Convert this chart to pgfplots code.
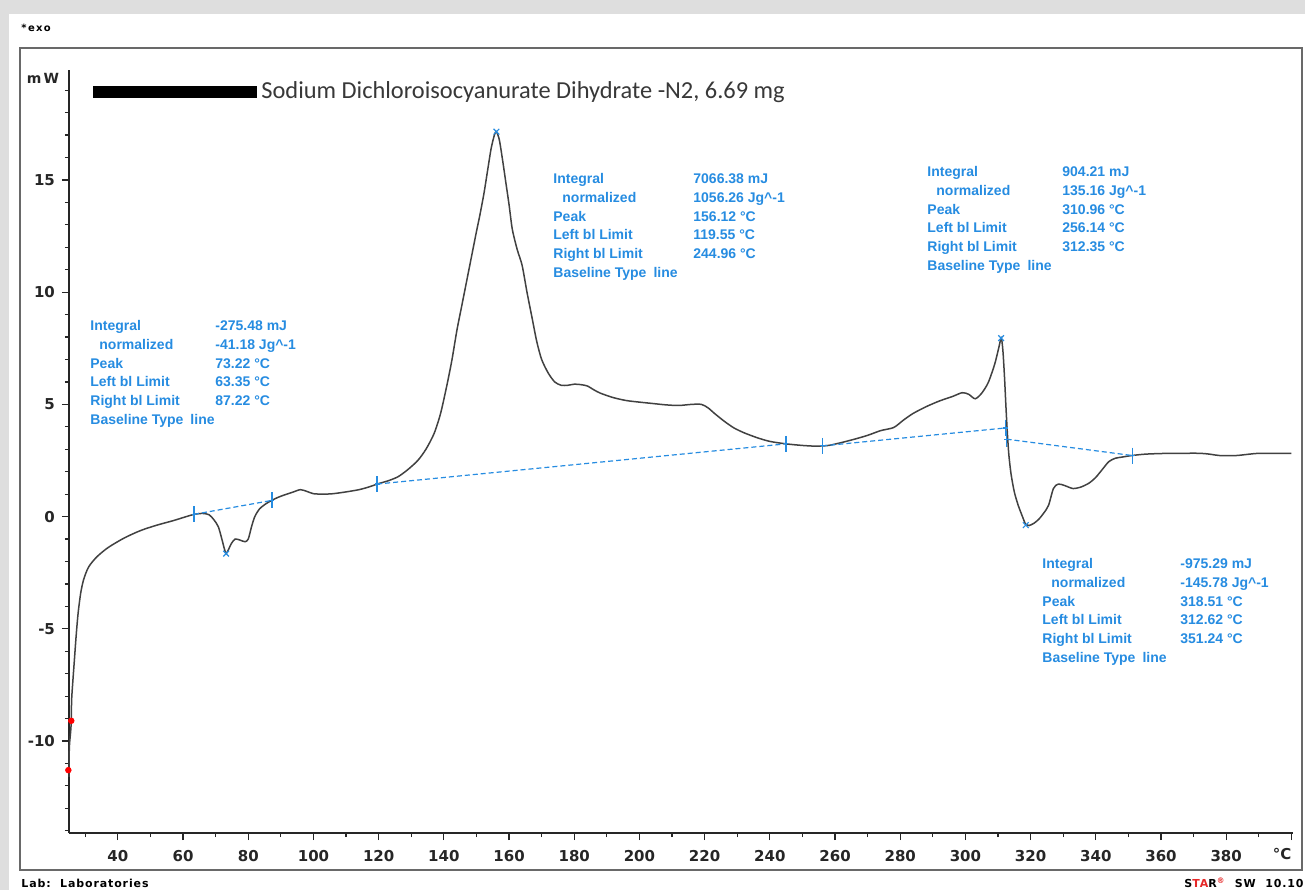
\documentclass[border=0pt]{standalone}
\usepackage{fontspec}
\setmainfont{Liberation Sans}
\newfontfamily\titlefont{Carlito}
\newfontfamily\tickfont{DejaVu Sans}
\usepackage{pgfplots}
\usepackage{pgfplotstable}
\pgfplotsset{compat=1.18}

\definecolor{curvegray}{RGB}{65,65,65}
\definecolor{annot}{RGB}{38,140,225}
\definecolor{framegray}{RGB}{105,105,105}
\definecolor{shadowgray}{RGB}{222,222,222}
\definecolor{starred}{RGB}{230,40,40}

% DSC curve, temperature (C) vs heat flow (mW)
\pgfplotstableread{
T q
25.0 -11.6
25.1 -10.3
25.5 -9.6
25.7 -9.1
25.8 -8.2
26.1 -7.5
26.6 -6.5
27.2 -5.3
27.8 -4.3
28.6 -3.4
29.5 -2.8
31.0 -2.25
33.5 -1.8
37.0 -1.38
42.0 -0.95
47.0 -0.62
52.0 -0.38
57.0 -0.18
61.0 0.0
63.4 0.10
66.0 0.14
68.0 0.08
69.5 -0.15
70.8 -0.45
71.8 -0.95
72.6 -1.4
73.2 -1.65
74.0 -1.45
74.8 -1.2
76.0 -1.0
77.5 -1.05
79.0 -1.12
80.0 -1.0
81.0 -0.45
82.0 0.0
83.5 0.35
85.5 0.58
87.2 0.72
89.0 0.85
91.0 0.96
93.5 1.08
96.0 1.2
98.0 1.12
100.0 1.02
103.0 1.0
106.0 1.02
110.0 1.1
114.0 1.2
117.0 1.32
120.0 1.47
123.0 1.6
126.0 1.78
129.0 2.1
132.0 2.5
134.5 3.0
137.0 3.7
139.0 4.6
141.0 5.9
142.5 7.0
144.0 8.3
145.5 9.4
147.0 10.5
148.5 11.6
150.0 12.7
151.0 13.4
152.3 14.4
153.5 15.5
154.5 16.4
155.5 17.0
156.1 17.15
157.0 16.8
158.0 15.9
159.0 14.9
160.0 13.9
161.0 12.8
162.5 11.9
164.0 11.2
165.5 10.0
167.0 8.9
168.5 7.8
170.0 7.0
172.0 6.4
174.0 6.0
176.0 5.85
178.0 5.85
180.0 5.9
182.0 5.88
184.0 5.82
186.0 5.65
188.0 5.5
192.0 5.3
196.0 5.17
200.0 5.1
204.0 5.04
208.0 4.98
212.0 4.95
216.0 5.0
219.0 5.0
221.0 4.85
223.0 4.6
226.0 4.25
229.0 3.95
232.0 3.74
236.0 3.52
240.0 3.35
245.0 3.24
250.0 3.17
254.0 3.14
258.0 3.17
262.0 3.3
266.0 3.45
270.0 3.62
274.0 3.83
278.0 3.97
281.0 4.3
284.0 4.6
288.0 4.9
292.0 5.15
296.0 5.35
299.0 5.52
301.0 5.45
303.0 5.25
305.0 5.5
307.0 5.97
309.0 6.8
310.2 7.5
311.0 7.95
311.5 7.4
312.0 6.2
312.4 5.0
312.8 3.9
313.3 2.8
314.0 1.9
315.0 1.1
316.2 0.5
317.5 0.0
318.5 -0.35
319.5 -0.4
321.0 -0.3
322.5 -0.12
324.0 0.15
325.5 0.5
327.0 1.25
328.5 1.45
330.5 1.38
333.0 1.25
335.5 1.32
338.0 1.5
340.0 1.75
342.0 2.1
344.0 2.45
346.0 2.6
348.0 2.65
351.0 2.72
355.0 2.78
360.0 2.81
366.0 2.82
372.0 2.82
375.0 2.78
378.0 2.72
383.0 2.72
387.0 2.78
390.0 2.82
395.0 2.82
400.0 2.82
}\dsc

% evaluation box: position, value column, five values
\newcommand\evalbox[7]{%
  \node[anchor=north west,inner sep=0pt,text=annot,
        font=\bfseries\fontsize{7}{9.4}\selectfont] at (#1)
  {\begin{tabular}{@{}p{#2}@{}l@{}}
   Integral & #3\\
   \hspace*{4.5pt}normalized & #4\\
   Peak & #5\\
   Left bl Limit & #6\\
   Right bl Limit & #7\\
   Baseline Type\enspace line &
   \end{tabular}};}

\begin{document}
\begin{tikzpicture}
% page background, in pixel units of the reference
\begin{scope}[x=0.5pt,y=-0.5pt,xshift=-34.5pt,yshift=416.5pt]
  \fill[shadowgray] (0,0) rectangle (1305,890);
  \fill[white] (9,14) rectangle (1305,890);
  \draw[framegray,line width=1pt] (20,48) rectangle (1302,870);
\end{scope}

\begin{axis}[
  at={(0,0)}, anchor=south west,
  scale only axis, width=612pt, height=381.5pt,
  xmin=25, xmax=400.5, ymin=-14.1, ymax=19.9,
  axis x line=bottom, axis y line=left,
  axis line style={-, line width=0.9pt, black!85},
  xtick={40,60,...,400},
  xticklabels={40,60,80,100,120,140,160,180,200,220,240,260,280,300,320,340,360,380,{}},
  minor xtick={30,50,...,390},
  ytick={-10,-5,...,15},
  minor ytick={-14,-13,...,19},
  tick align=outside,
  major tick length=3.5pt, minor tick length=2pt,
  every tick/.style={line width=0.6pt, black!85},
  ticklabel style={font=\tickfont\bfseries\fontsize{7.5}{9}\selectfont, text=black!85},
  xticklabel style={yshift=-1.5pt},
  /pgf/number format/assume math mode=true,
  clip=false,
]
\addplot[curvegray, line width=0.75pt, smooth, tension=0.45] table[x=T, y=q] {\dsc};

% baselines
\addplot[annot, line width=0.6pt, dash pattern=on 2.5pt off 1.5pt] coordinates {(63.35,0.10) (87.22,0.72)};
\addplot[annot, line width=0.6pt, dash pattern=on 2.5pt off 1.5pt] coordinates {(119.55,1.45) (244.96,3.24)};
\addplot[annot, line width=0.6pt, dash pattern=on 2.5pt off 1.5pt] coordinates {(256.14,3.15) (312.35,3.95)};
\addplot[annot, line width=0.6pt, dash pattern=on 2.5pt off 1.5pt] coordinates {(312.62,3.45) (351.24,2.72)};

% baseline limits
\addplot[only marks, mark=|, mark size=4pt, annot, mark options={line width=0.8pt}]
  coordinates {(63.35,0.10) (87.22,0.72) (119.55,1.45) (244.96,3.24)
               (256.14,3.15) (312.35,3.95) (312.62,3.45) (351.24,2.72)};
\addplot[only marks, mark=-, mark size=1.2pt, annot, mark options={line width=0.6pt}]
  coordinates {(63.35,0.10) (87.22,0.72) (119.55,1.45) (244.96,3.24)
               (256.14,3.15) (312.35,3.95) (312.62,3.45) (351.24,2.72)};
% peaks
\addplot[only marks, mark=x, mark size=2pt, annot, mark options={line width=0.6pt}]
  coordinates {(73.22,-1.65) (156.12,17.15) (310.96,7.95) (318.51,-0.38)};
% start markers
\addplot[only marks, mark=*, mark size=1.4pt, red]
  coordinates {(25.7,-9.1) (24.8,-11.3)};
\end{axis}

% texts, in pixel units of the reference
\begin{scope}[x=0.5pt,y=-0.5pt,xshift=-34.5pt,yshift=416.5pt]
  \node[font=\tickfont\bfseries\fontsize{5}{6}\selectfont\addfontfeature{LetterSpace=12}] at (36,28) {*\,exo};
  \node[font=\tickfont\bfseries\fontsize{7}{9}\selectfont, text=black!85] at (43,78) {m\,W};
  \fill[black] (93,86) rectangle (257,98);
  \node[anchor=west, inner sep=0pt, text=black!78,
        font=\titlefont\fontsize{12.2}{14}\selectfont] at (261,92)
    {Sodium Dichloroisocyanurate Dihydrate -N2, 6.69 mg};
  \node[font=\tickfont\bfseries\fontsize{7.5}{9}\selectfont, text=black!85] at (1282,854) {°C};
  \node[anchor=west, inner sep=0pt,
        font=\tickfont\bfseries\fontsize{5.5}{7}\selectfont\addfontfeature{LetterSpace=8}] at (21,883)
    {Lab:\ \ Laboratories};
  \node[anchor=east, inner sep=0pt,
        font=\tickfont\bfseries\fontsize{5.5}{7}\selectfont\addfontfeature{LetterSpace=8}] at (1304,883)
    {S\textcolor{starred}{TA}R\textcolor{starred}{\textsuperscript{®}}\ \ SW\ \ 10.10};

  \evalbox{90,317}{62.5pt}{-275.48 mJ}{-41.18 Jg\textasciicircum-1}{73.22 °C}{63.35 °C}{87.22 °C}
  \evalbox{553,170}{70pt}{7066.38 mJ}{1056.26 Jg\textasciicircum-1}{156.12 °C}{119.55 °C}{244.96 °C}
  \evalbox{927,163}{67.5pt}{904.21 mJ}{135.16 Jg\textasciicircum-1}{310.96 °C}{256.14 °C}{312.35 °C}
  \evalbox{1042,555}{69pt}{-975.29 mJ}{-145.78 Jg\textasciicircum-1}{318.51 °C}{312.62 °C}{351.24 °C}
\end{scope}
\end{tikzpicture}
\end{document}
